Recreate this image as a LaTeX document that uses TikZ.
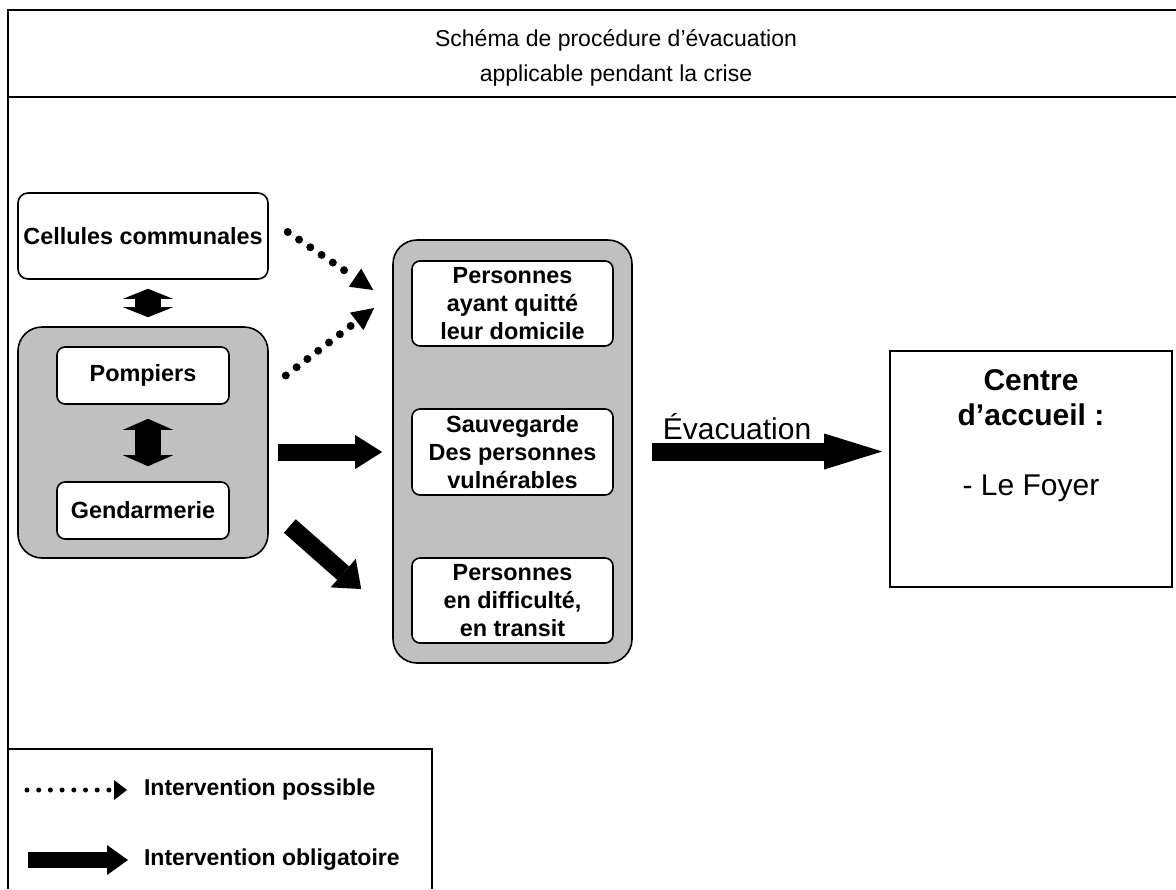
\documentclass[tikz,border=0pt]{standalone}
\usepackage{fontspec}
\setmainfont{Liberation Sans}
\usetikzlibrary{arrows.meta,calc}
\definecolor{grpgray}{RGB}{192,192,192}

\begin{document}
\begin{tikzpicture}[x=0.5pt,y=-0.5pt,
	grpbox/.style={draw,line width=0.8pt,fill=grpgray,rounded corners=12pt,inner sep=0pt},
	itembox/.style={draw,line width=0.8pt,fill=white,rounded corners=4pt,align=center,inner sep=0pt,
		font=\fontsize{11.7}{14}\selectfont\bfseries},
	bigarrow/.style n args={3}{line width=#1,-{Triangle[length=#2,width=#3,line width=0pt]}},
	dblarrow/.style n args={2}{line width=13pt,{Triangle[length=#1,width=#2,line width=0pt]}-{Triangle[length=#1,width=#2,line width=0pt]}},
	possarrow/.style n args={4}{line width=#1,line cap=round,dash pattern=on 0pt off #2,
		-{Triangle[length=#3,width=#4,line width=0pt]}},
	legtext/.style={anchor=west,font=\fontsize{11.5}{14}\selectfont\bfseries}]
	\useasboundingbox (0,0) rectangle (1176,889);

	\draw[line width=0.9pt] (1176,10) -- (8,10) -- (8,889);
	\draw[line width=0.9pt] (8,97) -- (1176,97);
	\node[align=center,font=\fontsize{11.5}{17.5}\selectfont] (title) at (616,58)
		{Schéma de procédure d’évacuation\\applicable pendant la crise};

	\node[itembox,rounded corners=5pt,minimum width=125pt,minimum height=43pt] (celcom) at (143,236) {Cellules communales};
	\node[grpbox,minimum width=125pt,minimum height=115.5pt] (leftgrp) at (143,442.5) {};
	\node[itembox,minimum width=86pt,minimum height=28.5pt] (pomp) at (143,375.5) {Pompiers};
	\node[itembox,minimum width=86pt,minimum height=28.5pt] (gend) at (143,510.5) {Gendarmerie};

	\node[grpbox,minimum width=119.5pt,minimum height=211.5pt] (midgrp) at (512.5,451.5) {};
	\node[itembox,minimum width=100.5pt,minimum height=42.5pt] (pers1) at (512.5,303.5)
		{Personnes\\ayant quitté\\leur domicile};
	\node[itembox,minimum width=100.5pt,minimum height=43pt] (pers2) at (512.5,452)
		{Sauvegarde\\Des personnes\\vulnérables};
	\node[itembox,minimum width=100.5pt,minimum height=42.5pt] (pers3) at (512.5,600.5)
		{Personnes\\en difficulté,\\en transit};

	\node[draw,line width=0.8pt,minimum width=141pt,minimum height=118pt] (centre) at (1031,469) {};
	\node[anchor=north,align=center,font=\fontsize{15}{17.5}\selectfont,yshift=-6pt] (centretxt) at (centre.north)
		{\textbf{Centre}\\\textbf{d’accueil :}\\[17.5pt]- Le Foyer};

	\draw[dblarrow={5pt}{25pt}] ([shift={(5,9)}]celcom.south) -- ([shift={(5,-9)}]leftgrp.north);
	\draw[dblarrow={5.5pt}{25pt}] ([shift={(5,14)}]pomp.south) -- ([shift={(5,-15)}]gend.north);

	\draw[possarrow={4pt}{6.8pt}{11pt}{11pt}] ([shift={(19,-4)}]celcom.east) -- ([shift={(-38,-13.5)}]pers1.west);
	\draw[possarrow={4pt}{6.8pt}{11pt}{11pt}] ([shift={(56,0)}]pomp.east) -- ([shift={(-37,4.5)}]pers1.west);
	\draw[bigarrow={8.5pt}{13.5pt}{17pt}] ([xshift=4.5pt]leftgrp.east |- pers2.west) -- ([xshift=-14.5pt]pers2.west);
	\draw[bigarrow={9pt}{12pt}{19pt}] ([shift={(60,15.5)}]gend.east) -- ([shift={(-50,-11.5)}]pers3.west);

	\draw[bigarrow={9pt}{29pt}{18pt}] ([xshift=9.5pt]midgrp.east) -- ([xshift=-3.5pt]centre.west |- midgrp.east)
		node[pos=0.37,above,yshift=-2pt,font=\fontsize{15}{17.5}\selectfont] {Évacuation};

	\draw[line width=0.9pt] (8,749) -- (432,749) -- (432,889);
	\node[legtext] (legposs) at (137,790) {Intervention possible};
	\node[legtext] (legoblig) at (137,860) {Intervention obligatoire};
	\draw[possarrow={2.5pt}{5.85pt}{6.5pt}{10pt}] ([xshift=-55pt]legposs.west) -- ([xshift=-5pt]legposs.west);
	\draw[bigarrow={8pt}{10.5pt}{15pt}] ([xshift=-54.5pt]legoblig.west) -- ([xshift=-4.5pt]legoblig.west);
\end{tikzpicture}
\end{document}
